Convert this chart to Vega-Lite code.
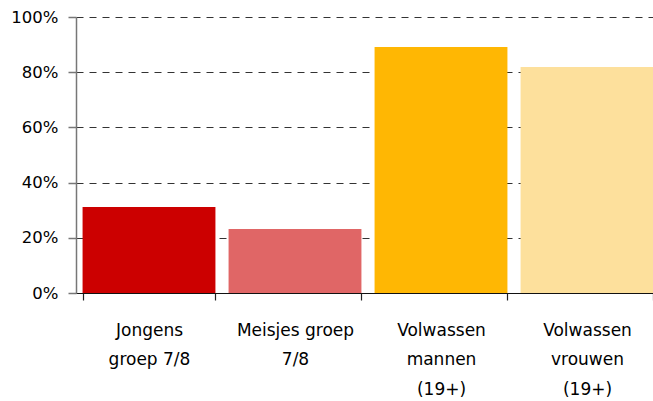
{
  "$schema": "https://vega.github.io/schema/vega-lite/v6.json",
  "autosize": "none",
  "padding": {"left": 76, "top": 17, "right": 0, "bottom": 108},
  "width": 584,
  "height": 276,
  "background": "white",
  "data": {"values": [
    {"groep": "Jongens|groep 7/8", "aandeel": 0.312, "kleur": "#CC0000"},
    {"groep": "Meisjes groep|7/8", "aandeel": 0.232, "kleur": "#E06666"},
    {"groep": "Volwassen|mannen|(19+)", "aandeel": 0.891, "kleur": "#FFB703"},
    {"groep": "Volwassen|vrouwen|(19+)", "aandeel": 0.819, "kleur": "#FDE09C"}
  ]},
  "config": {
    "view": {"stroke": null},
    "font": "DejaVu Sans"
  },
  "mark": {"type": "bar"},
  "encoding": {
    "x": {
      "field": "groep", "type": "nominal", "sort": null,
      "scale": {"paddingInner": 0.09, "paddingOuter": 0.045},
      "axis": {
        "title": null, "labelAngle": 0,
        "labelExpr": "split(datum.label, '|')",
        "labelFontSize": 17, "labelColor": "#000", "labelLineHeight": 29.5,
        "labelPadding": 30, "labelBaseline": "middle",
        "tickBand": "extent", "tickSize": 7, "tickColor": "#222", "tickWidth": 1.2,
        "domainColor": "#111", "domainWidth": 1.2, "labelFont": "DejaVu Sans"
      }
    },
    "y": {
      "field": "aandeel", "type": "quantitative",
      "scale": {"domain": [0, 1]},
      "axis": {
        "title": null, "format": ".0%", "values": [0, 0.2, 0.4, 0.6, 0.8, 1],
        "labelFontSize": 16.5, "labelColor": "#000", "labelPadding": 10,
        "tickSize": 8, "tickColor": "#777", "tickWidth": 1.5,
        "domainColor": "#777", "domainWidth": 1.5,
        "grid": true, "gridColor": "#333", "gridDash": [7, 6], "gridWidth": 1,
        "labelFont": "DejaVu Sans"
      }
    },
    "color": {"field": "kleur", "type": "nominal", "scale": null, "legend": null}
  }
}
